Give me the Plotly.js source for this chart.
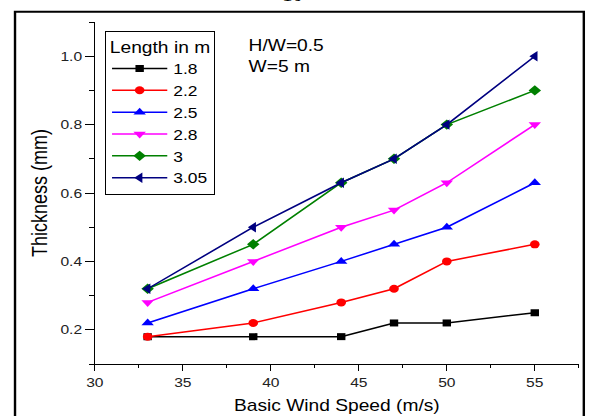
<!DOCTYPE html>
<html>
<head>
<meta charset="utf-8">
<script src="https://cdn.plot.ly/plotly-3.0.1.min.js"></script>
<style>
  html, body { margin: 0; padding: 0; background: #fff; overflow: hidden; }
  #wrap { width: 592px; height: 416px; overflow: hidden; }
  /* the figure is laid out narrower and stretched to the full width */
  #chart { width: 493px; height: 416px; transform: scaleX(1.2008); transform-origin: 0 0; }
</style>
</head>
<body>
<div id="wrap"><div id="chart"></div></div>
<script>
// Basic wind speed (m/s)
const windSpeed = [33, 39, 44, 47, 50, 55];

// Thickness (mm) for each length
const len18  = [0.18, 0.18, 0.18, 0.22, 0.22, 0.25];
const len22  = [0.18, 0.22, 0.28, 0.32, 0.40, 0.45];
const len25  = [0.22, 0.32, 0.40, 0.45, 0.50, 0.63];
const len28  = [0.28, 0.40, 0.50, 0.55, 0.63, 0.80];
const len30  = [0.32, 0.45, 0.63, 0.70, 0.80, 0.90];
const len305 = [0.32, 0.50, 0.63, 0.70, 0.80, 1.00];

const seriesNames = ['1.8', '2.2', '2.5', '2.8', '3', '3.05'];
const seriesData = [len18, len22, len25, len28, len30, len305];
const colors = ['#000000', '#ff0000', '#0000ff', '#ff00ff', '#008000', '#000080'];
const symbols = ['square', 'circle', 'triangle-up', 'triangle-down', 'diamond', 'triangle-left'];
const sizes = [7, 8, 9, 9, 8, 9];

const traces = seriesData.map((vals, i) => ({
  type: 'scatter',
  mode: 'lines+markers',
  name: seriesNames[i],
  x: windSpeed,
  y: vals,
  line: { color: colors[i], width: 1.5 },
  marker: { color: colors[i], symbol: symbols[i], size: sizes[i] }
}));

const FONT = 'Arial, "Liberation Sans", sans-serif';
const tickFont = { family: FONT, size: 13, color: '#222' };

const layout = {
  width: 493,
  height: 416,
  margin: { l: 79, r: 10.5, t: 22, b: 52 },
  paper_bgcolor: '#fff',
  plot_bgcolor: '#fff',
  showlegend: true,
  font: { family: FONT, color: '#000' },
  xaxis: {
    range: [30, 57.5],
    tick0: 30, dtick: 5,
    ticks: 'outside', ticklen: 6, tickwidth: 1, tickcolor: '#000',
    minor: { dtick: 2.5, ticks: 'outside', ticklen: 3, tickcolor: '#000' },
    showline: true, linecolor: '#000', linewidth: 1,
    showgrid: false, zeroline: false,
    tickfont: tickFont,
    title: { text: 'Basic Wind Speed (m/s)', font: { family: FONT, size: 16, color: '#000' }, standoff: 11 }
  },
  yaxis: {
    range: [0.1, 1.1],
    tick0: 0.2, dtick: 0.2,
    tickformat: '.1f',
    ticks: 'outside', ticklen: 7, tickwidth: 1, tickcolor: '#000',
    minor: { dtick: 0.1, ticks: 'outside', ticklen: 3.5, tickcolor: '#000' },
    showline: true, linecolor: '#000', linewidth: 1,
    showgrid: false, zeroline: false,
    tickfont: tickFont,
    title: { text: 'Thickness (mm)', font: { family: FONT, size: 18, color: '#000' }, standoff: 5 }
  },
  xaxis2: {
    overlaying: 'x', side: 'top', anchor: 'y',
    range: [30, 57.5],
    tick0: 30, dtick: 5.5,
    ticks: 'inside', ticklen: 7, tickwidth: 1, tickcolor: '#000',
    minor: { dtick: 2.75, ticks: 'inside', ticklen: 3.5, tickcolor: '#000' },
    showline: true, linecolor: '#000', linewidth: 1,
    showgrid: false, zeroline: false, showticklabels: false
  },
  yaxis2: {
    overlaying: 'y', side: 'right', anchor: 'x',
    range: [0.1, 1.1],
    tick0: 0.1, dtick: 0.1,
    ticks: 'inside', ticklen: 4, tickwidth: 1, tickcolor: '#000',
    showline: true, linecolor: '#000', linewidth: 1,
    showgrid: false, zeroline: false, showticklabels: false
  },
  legend: {
    x: 0.0206, y: 0.9745, xanchor: 'left', yanchor: 'top',
    bgcolor: '#fff', bordercolor: '#000', borderwidth: 1,
    font: { family: FONT, size: 14.5, color: '#000' },
    title: { text: 'Length in m', side: 'top center', font: { family: FONT, size: 16, color: '#000' } },
    itemwidth: 46
  },
  annotations: [
    { xref: 'paper', yref: 'paper', x: 0.3134, y: 0.9307, xanchor: 'left', yanchor: 'middle',
      text: 'H/W=0.5', showarrow: false, font: { family: FONT, size: 16, color: '#000' } },
    { xref: 'paper', yref: 'paper', x: 0.3134, y: 0.870, xanchor: 'left', yanchor: 'middle',
      text: 'W=5 m', showarrow: false, font: { family: FONT, size: 16, color: '#000' } },
    { xref: 'paper', yref: 'paper', x: 0.408, y: 1.077, xanchor: 'center', yanchor: 'middle',
      text: '10', showarrow: false, font: { family: '"Liberation Serif", serif', size: 17, color: '#000' } }
  ],
  shapes: [
    // page frame around the figure
    { type: 'rect', xref: 'paper', yref: 'paper', x0: -0.165, x1: 1.0104, y0: -0.2, y1: 1.030,
      line: { color: '#000', width: 2 }, fillcolor: 'rgba(0,0,0,0)', layer: 'below' }
  ]
};

Plotly.newPlot('chart', traces, layout, { staticPlot: true, displayModeBar: false });
</script>
</body>
</html>
